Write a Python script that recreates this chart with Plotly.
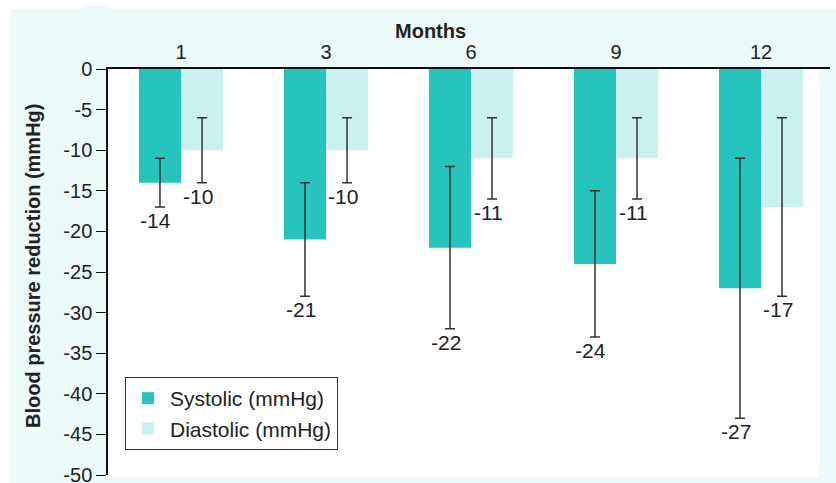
import plotly.graph_objects as go

months = ["1", "3", "6", "9", "12"]
systolic = [-14, -21, -22, -24, -27]
systolic_err = [3, 7, 10, 9, 16]
diastolic = [-10, -10, -11, -11, -17]
diastolic_err = [4, 4, 5, 5, 11]
y_ticks = [0, -5, -10, -15, -20, -25, -30, -35, -40, -45, -50]
y_tick_labels = [str(v) for v in y_ticks]

SYS_COLOR = "#26C4BC"
DIA_COLOR = "#C9F1ED"
BG_CYAN = "#ECFAFA"
TXT = "#222222"
FONT = "Liberation Sans"

xpos = list(range(len(months)))
bargap = 0.42
half = (1 - bargap) / 4  # centre offset of each bar within a group

fig = go.Figure()
fig.add_trace(go.Bar(
    x=xpos, y=systolic, name="Systolic (mmHg)", marker_color=SYS_COLOR,
    marker_line_width=0, legendgroup="s",
    error_y=dict(type="data", array=systolic_err, color="#333333", thickness=1.5, width=5),
))
fig.add_trace(go.Bar(
    x=xpos, y=diastolic, name="Diastolic (mmHg)", marker_color=DIA_COLOR,
    marker_line_width=0, legendgroup="d",
    error_y=dict(type="data", array=diastolic_err, color="#333333", thickness=1.5, width=5),
))

annotations = []
for i, (v, e) in enumerate(zip(systolic, systolic_err)):
    annotations.append(dict(x=i - half, y=v - e, text=str(v), showarrow=False,
                            xanchor="center", yanchor="top", xshift=-4, yshift=0,
                            font=dict(size=21, color=TXT, family=FONT)))
for i, (v, e) in enumerate(zip(diastolic, diastolic_err)):
    annotations.append(dict(x=i + half, y=v - e, text=str(v), showarrow=False,
                            xanchor="center", yanchor="top", xshift=-4, yshift=0,
                            font=dict(size=21, color=TXT, family=FONT)))

# figure is taller than the window so that the bottom "-50" label is drawn and
# then cropped by the window edge, as in the reference
W, H = 836, 500
L, R, T = 108, 6, 69
B = H - 475
pw, ph = W - L - R, H - T - B

def px(p):
    return (p - L) / pw

def py(p):
    return (H - B - p) / ph

annotations.append(dict(x=px(430), y=py(31), xref="paper", yref="paper", text="<b>Months</b>",
                        showarrow=False, xanchor="center", yanchor="middle",
                        font=dict(size=20, color=TXT, family=FONT)))
annotations.append(dict(x=px(33), y=py(266), xref="paper", yref="paper",
                        text="<b>Blood pressure reduction (mmHg)</b>", textangle=-90,
                        showarrow=False, xanchor="center", yanchor="middle",
                        font=dict(size=20, color=TXT, family=FONT)))

shapes = [
    dict(type="rect", xref="paper", yref="paper", x0=px(10), x1=px(W + 2), y0=py(H + 2), y1=py(9),
         fillcolor=BG_CYAN, line_width=0, layer="below"),
    dict(type="rect", xref="paper", yref="paper", x0=px(83), x1=px(108), y0=py(9), y1=py(5),
         fillcolor=BG_CYAN, line_width=0, layer="below"),
    dict(type="rect", xref="paper", yref="paper", x0=0, x1=px(819), y0=py(478), y1=1,
         fillcolor="white", line_width=0, layer="below"),
]

x0_range = (108 - 181) / 145
x1_range = (830 - 181) / 145

fig.update_layout(
    width=W, height=H,
    margin=dict(l=L, r=R, t=T, b=B, pad=0),
    paper_bgcolor="white",
    plot_bgcolor="rgba(0,0,0,0)",
    barmode="group", bargap=bargap, bargroupgap=0,
    font=dict(family=FONT, size=20, color=TXT),
    xaxis=dict(side="top", tickmode="array", tickvals=xpos, ticktext=months,
               range=[x0_range, x1_range], showline=True, linecolor="#111111", linewidth=1.5,
               ticks="", showgrid=False, zeroline=False, fixedrange=True,
               tickfont=dict(size=20, color=TXT, family=FONT)),
    yaxis=dict(range=[-50, 0], tickmode="array", tickvals=y_ticks, ticktext=y_tick_labels,
               showline=True, linecolor="#111111", linewidth=1.5,
               ticks="outside", ticklen=10, tickwidth=1.2, tickcolor="#111111",
               showgrid=False, zeroline=False, fixedrange=True,
               tickfont=dict(size=20, color=TXT, family=FONT)),
    legend=dict(x=px(125), y=py(377), xanchor="left", yanchor="top",
                bgcolor="white", bordercolor="#333333", borderwidth=1,
                font=dict(size=21, color=TXT, family=FONT), tracegroupgap=6,
                itemwidth=34, traceorder="normal"),
    showlegend=True,
    annotations=annotations,
    shapes=shapes,
)

fig.write_html("out.html", config={"displayModeBar": False},
               post_script="document.body.style.margin='0';document.body.style.overflow='hidden';")
